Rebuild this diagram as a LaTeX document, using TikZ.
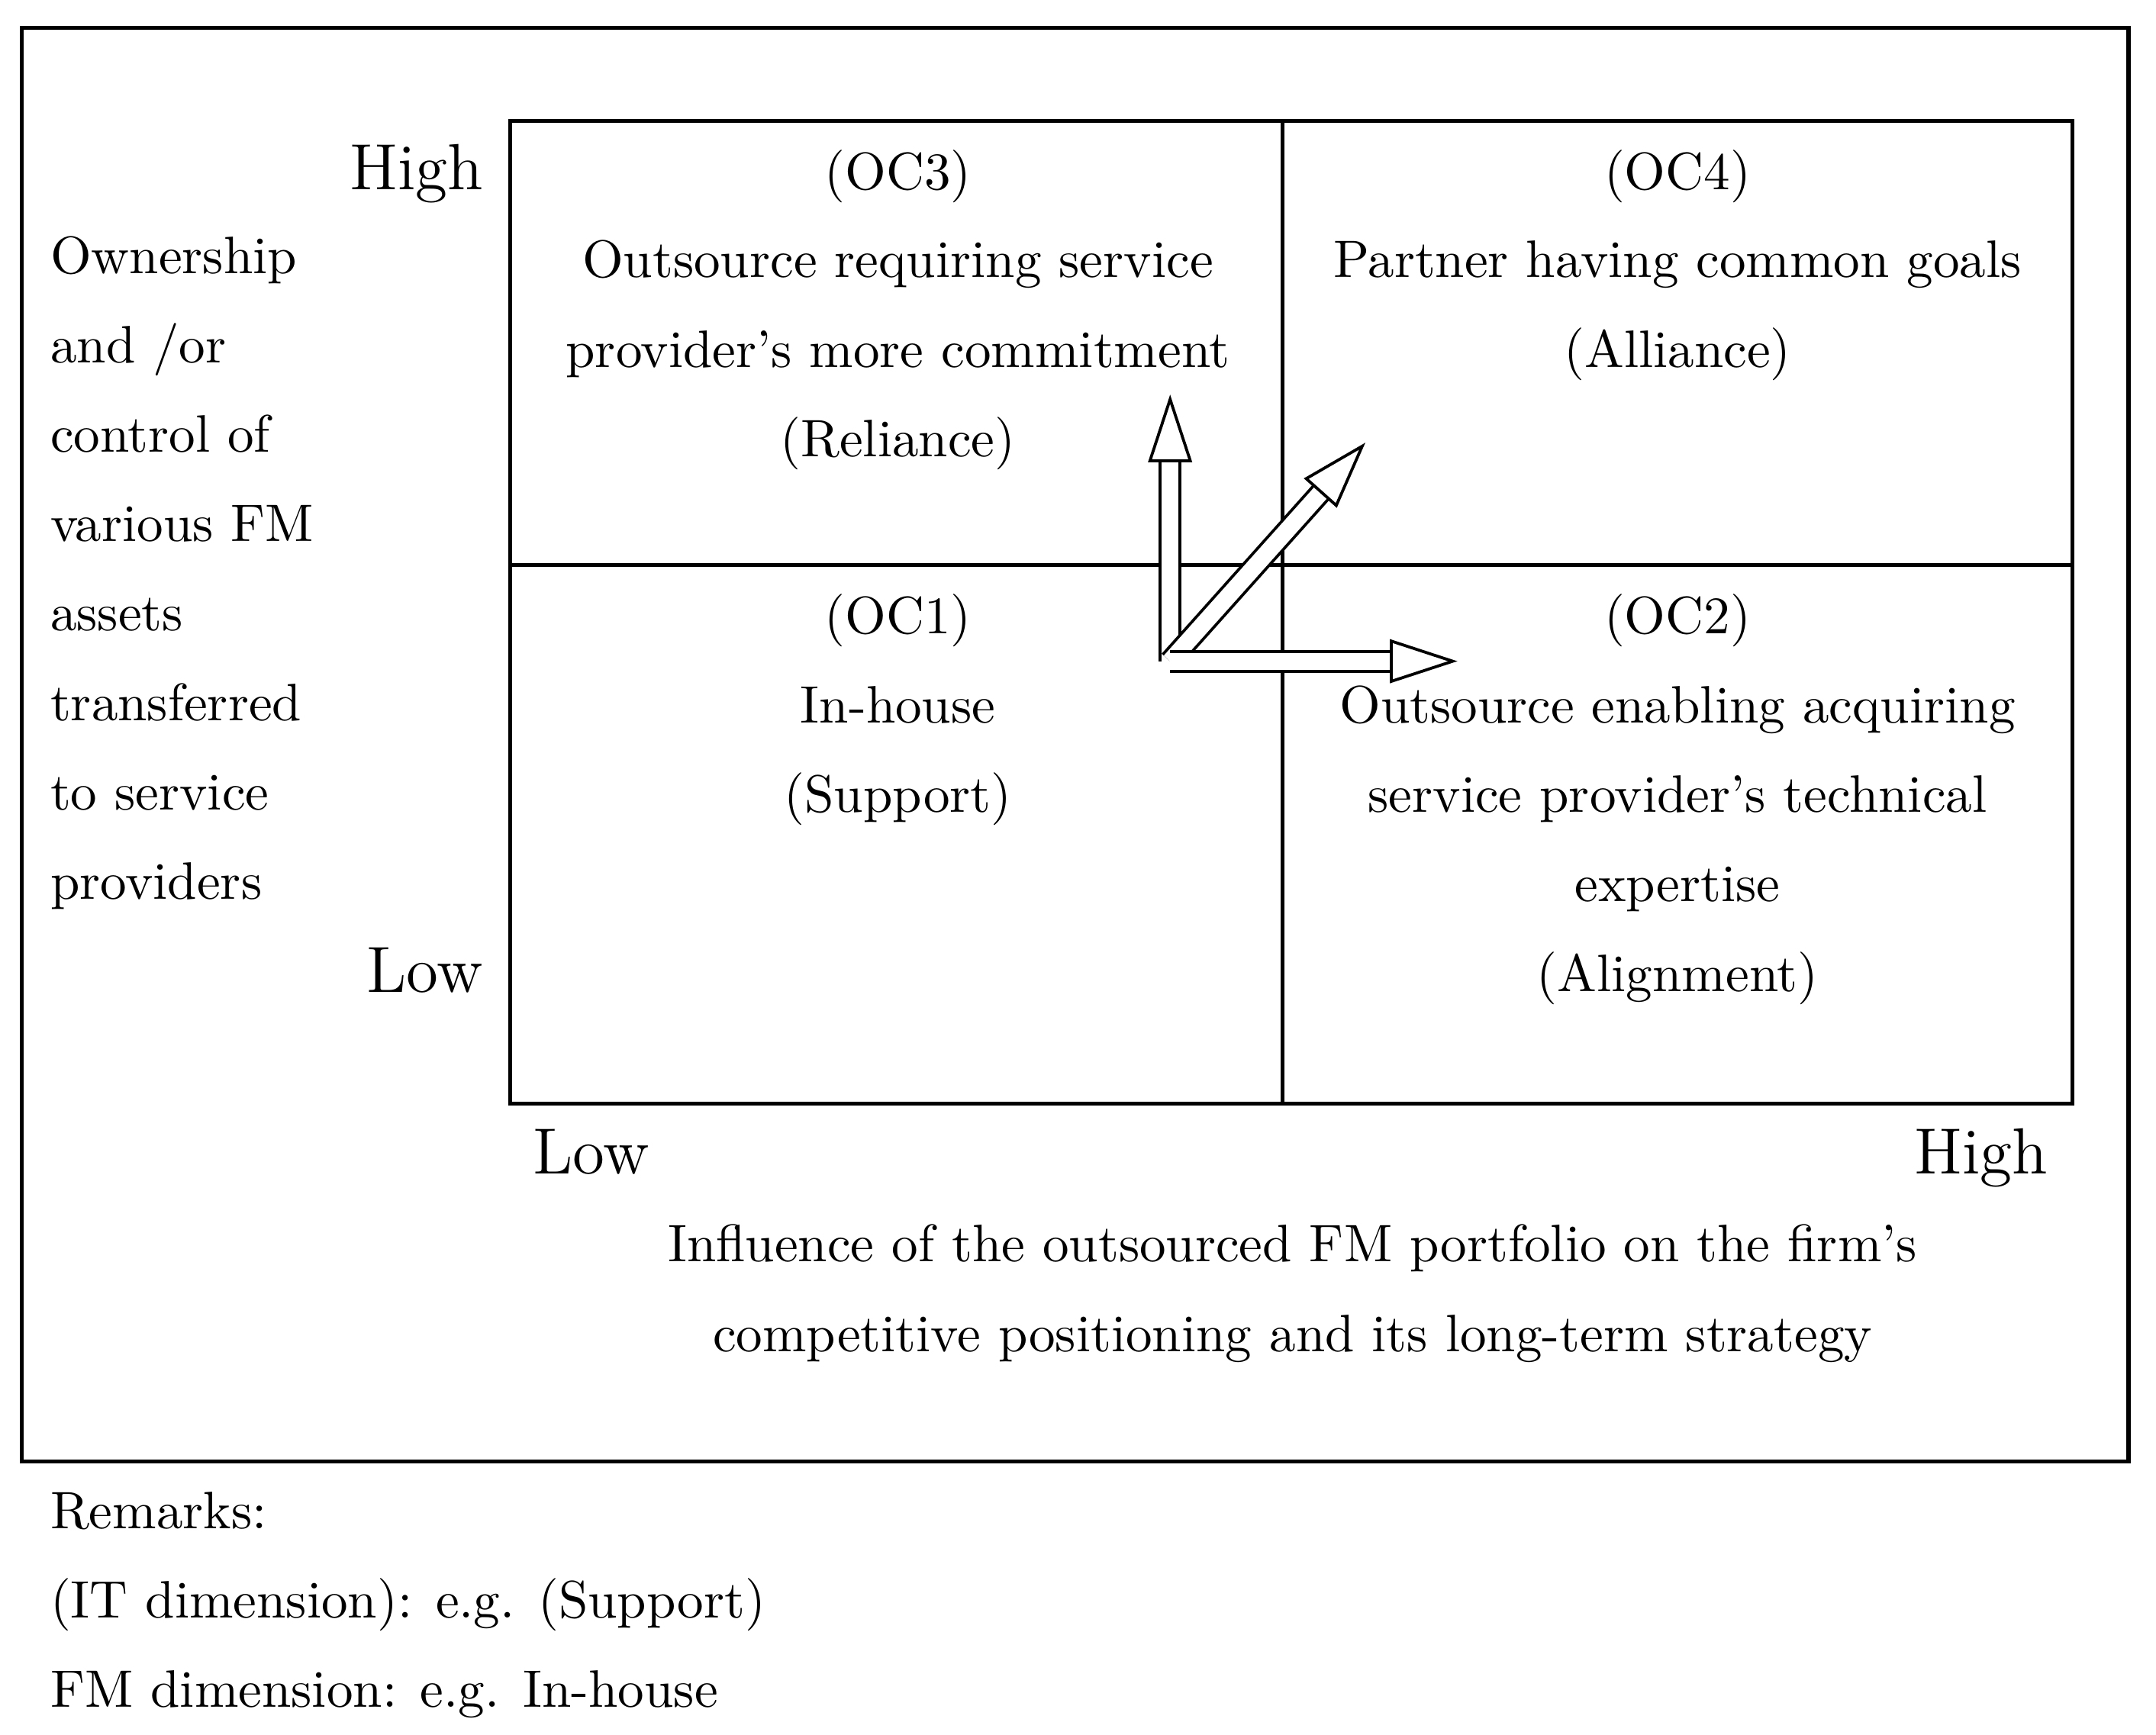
\documentclass[tikz,border=0pt]{standalone}
\usetikzlibrary{arrows.meta}
\begin{document}
\begin{tikzpicture}[x=0.01cm,y=-0.01cm,
 txt/.style={font=\fontsize{10.9}{13}\selectfont,inner sep=0pt,anchor=base},
 lt/.style={txt,anchor=base west},
 big/.style={font=\fontsize{13.5}{16}\selectfont},
 dbl/.style={draw=black,double=white,double distance=3.5pt,line width=0.6pt,-{Triangle[open,length=14pt,width=9pt]}}]
\useasboundingbox (0,0) rectangle (1568,1262);
\draw[line width=0.8pt] (16,20) rectangle (1548,1063);
\draw[line width=0.8pt] (371,88) rectangle (1507,803);
\draw[line width=0.8pt] (933,88) -- (933,803);
\draw[line width=0.8pt] (371,411) -- (1507,411);
% left label
\foreach \t [count=\i] in {Ownership,and /or,control of,various FM,assets,transferred,to service,providers}
  \node[lt] (l\i) at (36,{186+65*(\i-1)+13}) {\t};
\node[txt,anchor=base east,big] (hy) at (352,138) {High};
\node[txt,anchor=base east,big] (ly) at (352,722) {Low};
\node[txt,big] (lx) at (430,854) {Low};
\node[txt,big] (hx) at (1441,854) {High};
\node[txt] (ax1) at (940,918) {Influence of the outsourced FM portfolio on the firm's};
\node[txt] (ax2) at (940,983) {competitive positioning and its long-term strategy};
% quadrants
\node[txt] (q3a) at (653,138) {(OC3)};
\node[txt] (q3b) at (653,202) {Outsource requiring service};
\node[txt] (q3c) at (653,267) {provider's more commitment};
\node[txt] (q3d) at (653,332) {(Reliance)};
\node[txt] (q4a) at (1220,138) {(OC4)};
\node[txt] (q4b) at (1220,202) {Partner having common goals};
\node[txt] (q4c) at (1220,267) {(Alliance)};
\node[txt] (q1a) at (653,461) {(OC1)};
\node[txt] (q1b) at (653,526) {In-house};
\node[txt] (q1c) at (653,591) {(Support)};
\node[txt] (q2a) at (1220,461) {(OC2)};
\node[txt] (q2b) at (1220,526) {Outsource enabling acquiring};
\node[txt] (q2c) at (1220,591) {service provider's technical};
\node[txt] (q2d) at (1220,656) {expertise};
\node[txt] (q2e) at (1220,721) {(Alignment)};
% arrows
\coordinate (o) at (851,481);
\coordinate (up) at (851,287);
\coordinate (dg) at (993,322);
\coordinate (rt) at (1060,481);
\draw[dbl] (o) -- (up);
\draw[dbl] (o) -- (dg);
\draw[dbl] (o) -- (rt);
% remarks
\node[lt] (r1) at (36,1112) {Remarks:};
\node[lt] (r2) at (36,1177) {(IT dimension): e.g. (Support)};
\node[lt] (r3) at (36,1242) {FM dimension: e.g. In-house};
\end{tikzpicture}
\end{document}
